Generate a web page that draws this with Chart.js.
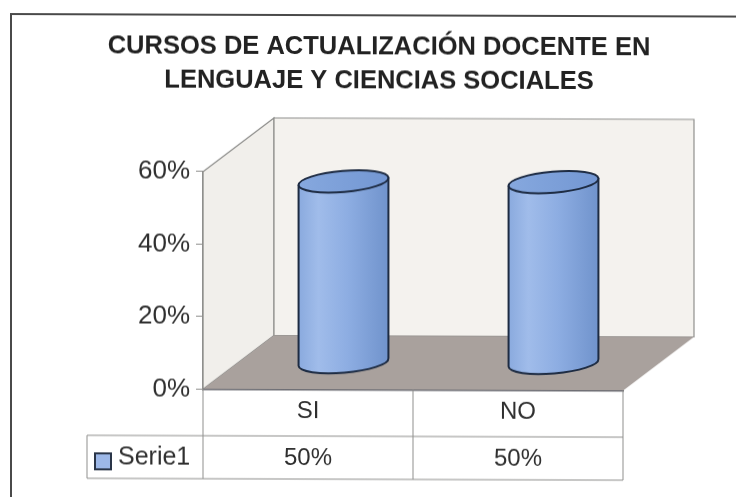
<!DOCTYPE html>
<html>
<head>
<meta charset="utf-8">
<title>Cursos de actualización docente</title>
<script src="https://cdn.jsdelivr.net/npm/chart.js@4"></script>
<style>
    html, body { margin: 0; padding: 0; background: #fff; overflow: hidden; }
    /* the reference is a scan, slightly tilted and soft */
    canvas { display: block; transform-origin: 0 0; transform: skewY(0.2deg); filter: blur(0.5px); }
</style>
</head>
<body>
<canvas id="cursosChart" width="736" height="497"></canvas>
<script>
const titleLines = ['CURSOS DE ACTUALIZACIÓN DOCENTE EN', 'LENGUAJE Y CIENCIAS SOCIALES'];
const categories = ['SI', 'NO'];
const seriesName = 'Serie1';
const seriesValues = [50, 50];
const axisMax = 60;
const axisStep = 20;

const fontFamily = '"Liberation Sans", Arial, sans-serif';
const textColor = '#2f2f2f';
const lineColor = '#8f8f8d';
const depthX = 71;
const depthY = -54;

// Walls and floor behind the chart, and the scan's frame
const backdrop = {
    id: 'backdrop',
    beforeDraw(chart) {
        const { ctx, chartArea: a } = chart;
        ctx.save();
        ctx.lineWidth = 1.2;
        ctx.strokeStyle = lineColor;

        ctx.fillStyle = '#f1efeb';
        ctx.beginPath();
        ctx.moveTo(a.left, a.top);
        ctx.lineTo(a.left + depthX, a.top + depthY);
        ctx.lineTo(a.left + depthX, a.bottom + depthY);
        ctx.lineTo(a.left, a.bottom);
        ctx.closePath();
        ctx.fill();
        ctx.stroke();

        ctx.fillStyle = '#f4f2ee';
        ctx.beginPath();
        ctx.rect(a.left + depthX, a.top + depthY, a.right - a.left, a.bottom - a.top);
        ctx.fill();
        ctx.stroke();

        ctx.fillStyle = '#a9a19d';
        ctx.beginPath();
        ctx.moveTo(a.left, a.bottom);
        ctx.lineTo(a.left + depthX, a.bottom + depthY);
        ctx.lineTo(a.right + depthX, a.bottom + depthY);
        ctx.lineTo(a.right, a.bottom);
        ctx.closePath();
        ctx.fill();

        // frame: only the left and top sides show in the scan
        ctx.strokeStyle = '#4a4a4a';
        ctx.lineWidth = 2;
        ctx.beginPath();
        ctx.moveTo(11, 497);
        ctx.lineTo(11, 14);
        ctx.lineTo(736, 14);
        ctx.stroke();
        ctx.restore();
    }
};

// Cylinders drawn on the bar elements Chart.js has laid out
const cylinders = {
    id: 'cylinders',
    afterDatasetsDraw(chart) {
        const { ctx } = chart;
        const tilt = 5 * Math.PI / 180;
        chart.getDatasetMeta(0).data.forEach(bar => {
            const cx = bar.x + depthX / 2;
            const top = bar.y + depthY / 2;
            const base = bar.base + depthY / 2;
            const rx = bar.width / 2 + 1;
            const ry = 10.5;
            const dx = rx * Math.cos(tilt);
            const dy = rx * Math.sin(tilt);

            const bodyFill = ctx.createLinearGradient(cx - dx, 0, cx + dx, 0);
            bodyFill.addColorStop(0, '#8aaade');
            bodyFill.addColorStop(0.22, '#a0bcea');
            bodyFill.addColorStop(0.55, '#8dade2');
            bodyFill.addColorStop(1, '#7093cc');

            ctx.save();
            ctx.lineWidth = 2;
            ctx.strokeStyle = '#1d2b42';
            ctx.lineJoin = 'round';

            ctx.fillStyle = bodyFill;
            ctx.beginPath();
            ctx.moveTo(cx - dx, top + dy);
            ctx.lineTo(cx - dx, base + dy);
            ctx.ellipse(cx, base, rx, ry, -tilt, Math.PI, 0, true);
            ctx.lineTo(cx + dx, top - dy);
            ctx.closePath();
            ctx.fill();
            ctx.stroke();

            const capFill = ctx.createLinearGradient(cx - dx, 0, cx + dx, 0);
            capFill.addColorStop(0, '#86a8de');
            capFill.addColorStop(1, '#7397d3');
            ctx.fillStyle = capFill;
            ctx.beginPath();
            ctx.ellipse(cx, top, rx, ry, -tilt, 0, Math.PI * 2);
            ctx.fill();
            ctx.stroke();
            ctx.restore();
        });
    }
};

// Data table under the x axis
const dataTable = {
    id: 'dataTable',
    afterDraw(chart) {
        const { ctx, chartArea: a, scales } = chart;
        const tableLeft = 87;
        const rowTop = 435;
        const rowBottom = 478;
        const bandEdges = [a.left, (a.left + a.right) / 2, a.right];

        ctx.save();
        ctx.strokeStyle = lineColor;
        ctx.lineWidth = 1;
        ctx.beginPath();
        ctx.moveTo(tableLeft, rowTop);
        ctx.lineTo(a.right, rowTop);
        ctx.moveTo(tableLeft, rowBottom);
        ctx.lineTo(a.right, rowBottom);
        ctx.moveTo(tableLeft, rowTop);
        ctx.lineTo(tableLeft, rowBottom);
        bandEdges.forEach(x => {
            ctx.moveTo(x, a.bottom);
            ctx.lineTo(x, rowBottom);
        });
        ctx.stroke();

        ctx.font = '24px ' + fontFamily;
        ctx.fillStyle = textColor;
        ctx.textBaseline = 'middle';
        ctx.textAlign = 'center';
        seriesValues.forEach((v, i) => {
            ctx.fillText(v + '%', scales.x.getPixelForValue(i), (rowTop + rowBottom) / 2 + 1);
        });

        ctx.textAlign = 'left';
        ctx.font = '25px ' + fontFamily;
        ctx.fillText(chart.data.datasets[0].label, 118, (rowTop + rowBottom) / 2 + 1);

        ctx.fillStyle = '#9db8e8';
        ctx.strokeStyle = '#2a3548';
        ctx.lineWidth = 2;
        ctx.beginPath();
        ctx.rect(95, 453, 16, 16);
        ctx.fill();
        ctx.stroke();
        ctx.restore();
    }
};

new Chart(document.getElementById('cursosChart').getContext('2d'), {
    type: 'bar',
    data: {
        labels: categories,
        datasets: [{
            label: seriesName,
            data: seriesValues,
            backgroundColor: 'rgba(0, 0, 0, 0)',
            barPercentage: 0.42,
            categoryPercentage: 1
        }]
    },
    plugins: [backdrop, cylinders, dataTable],
    options: {
        responsive: false,
        animation: false,
        // the title centres between the side paddings, a bit right of the canvas middle
        layout: { padding: { top: 0, right: 0, bottom: 0, left: 22 } },
        plugins: {
            legend: { display: false },
            tooltip: { enabled: false },
            title: {
                display: true,
                text: titleLines,
                color: '#222',
                font: { family: fontFamily, size: 25.5, weight: 'bold', lineHeight: 1.333 },
                padding: { top: 29, bottom: 74 }
            }
        },
        scales: {
            x: {
                afterFit(scale) { scale.height = 108.5; },
                grid: { display: false },
                border: { color: '#6f6f75', width: 1.5 },
                ticks: {
                    color: textColor,
                    font: { family: fontFamily, size: 24 },
                    padding: -1,
                    maxRotation: 0
                }
            },
            y: {
                min: 0,
                max: axisMax,
                afterFit(scale) { scale.width = 181; },
                grid: { drawOnChartArea: false, drawTicks: true, tickLength: 7, color: lineColor },
                border: { color: lineColor, width: 1.2 },
                ticks: {
                    stepSize: axisStep,
                    color: textColor,
                    padding: 6,
                    font: { family: fontFamily, size: 26 },
                    callback: value => value + '%'
                }
            },
            // empty axis that only reserves the room taken by the chart's depth
            depthRoom: {
                type: 'linear',
                position: 'right',
                afterFit(scale) { scale.width = 113; },
                grid: { display: false },
                border: { display: false },
                ticks: { display: false }
            }
        }
    }
});
</script>
</body>
</html>
